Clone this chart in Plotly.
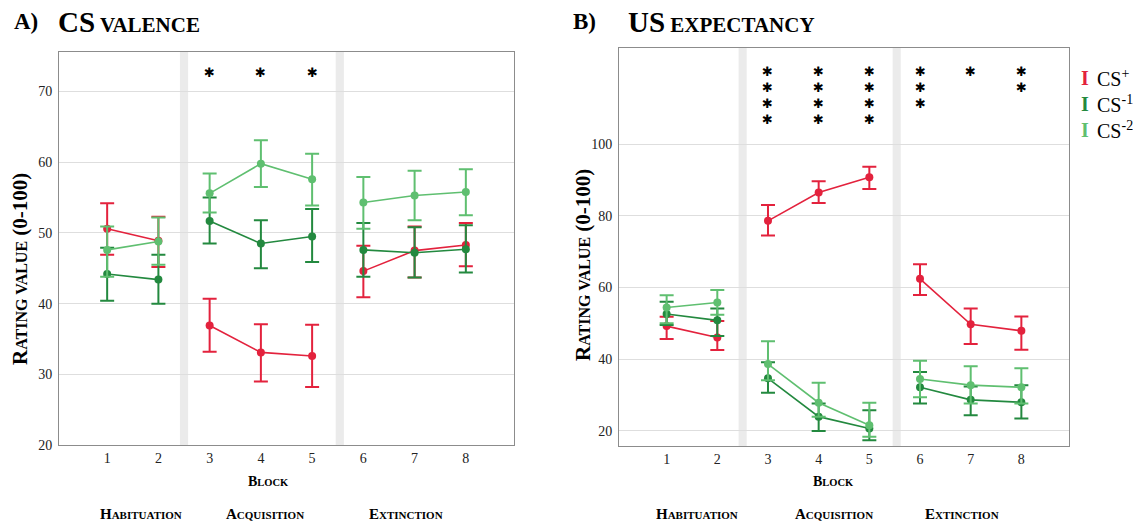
import plotly.graph_objects as go

# ---------------- data ----------------
blocks = [1, 2, 3, 4, 5, 6, 7, 8]
block_labels = ["1", "2", "3", "4", "5", "6", "7", "8"]
phase_segments = [[0, 1], [2, 3, 4], [5, 6, 7]]   # indices of blocks in each phase

# Panel A: CS valence (mean, upper CI, lower CI)
val_csp = [50.6, 48.9, 36.9, 33.1, 32.6, 44.6, 47.5, 48.3]
val_csp_hi = [54.2, 52.3, 40.7, 37.1, 37.0, 48.2, 50.9, 51.4]
val_csp_lo = [46.9, 45.2, 33.2, 29.0, 28.2, 40.9, 43.7, 45.3]
val_csm1 = [44.2, 43.4, 51.7, 48.5, 49.5, 47.6, 47.2, 47.7]
val_csm1_hi = [47.9, 46.9, 55.0, 51.8, 53.4, 51.4, 50.8, 51.1]
val_csm1_lo = [40.4, 40.0, 48.5, 45.0, 45.9, 43.8, 43.7, 44.4]
val_csm2 = [47.6, 48.8, 55.6, 59.8, 57.6, 54.3, 55.3, 55.8]
val_csm2_hi = [50.9, 52.2, 58.4, 63.1, 61.2, 57.9, 58.8, 59.0]
val_csm2_lo = [43.8, 45.5, 52.9, 56.5, 53.9, 50.6, 51.8, 52.5]
val_stars = [0, 0, 1, 1, 1, 0, 0, 0]

# Panel B: US expectancy
exp_csp = [49.2, 46.0, 78.6, 86.5, 90.8, 62.4, 49.7, 47.9]
exp_csp_hi = [51.8, 50.6, 83.0, 89.7, 93.7, 66.5, 54.1, 51.9]
exp_csp_lo = [45.6, 42.5, 74.5, 83.6, 87.5, 57.9, 44.2, 42.6]
exp_csm1 = [52.6, 50.8, 34.6, 23.9, 20.6, 32.1, 28.6, 27.9]
exp_csm1_hi = [56.0, 54.1, 39.1, 27.6, 25.7, 36.4, 32.3, 32.7]
exp_csm1_lo = [49.5, 46.4, 30.6, 19.9, 17.3, 27.6, 24.3, 23.4]
exp_csm2 = [54.4, 55.8, 38.6, 27.8, 21.5, 34.4, 32.7, 32.1]
exp_csm2_hi = [57.8, 59.3, 45.0, 33.4, 27.8, 39.5, 38.0, 37.4]
exp_csm2_lo = [50.0, 52.4, 34.1, 23.9, 18.3, 29.3, 27.6, 27.6]
exp_stars = [0, 0, 4, 4, 4, 3, 1, 2]

val_ticks = [20, 30, 40, 50, 60, 70]
exp_ticks = [20, 40, 60, 80, 100]
phase_names = [("H", "ABITUATION"), ("A", "CQUISITION"), ("E", "XTINCTION")]
legend_names = ["CS<sup>+</sup>", "CS<sup>-1</sup>", "CS<sup>-2</sup>"]

RED = "#e3223d"
DGREEN = "#23893f"
LGREEN = "#5fbf70"
colors = [RED, DGREEN, LGREEN]

W, H = 1133, 523
SERIF = "Liberation Serif"


def px(x):
    return x / W


def py(y):
    return 1 - y / H


fig = go.Figure()

panels = [
    ("x", "y", [(val_csp, val_csp_hi, val_csp_lo), (val_csm1, val_csm1_hi, val_csm1_lo),
                (val_csm2, val_csm2_hi, val_csm2_lo)]),
    ("x2", "y2", [(exp_csp, exp_csp_hi, exp_csp_lo), (exp_csm1, exp_csm1_hi, exp_csm1_lo),
                  (exp_csm2, exp_csm2_hi, exp_csm2_lo)]),
]
for xa, ya, series in panels:
    for (m, hi, lo), c in zip(series, colors):
        for seg in phase_segments:
            xs = [blocks[i] for i in seg]
            ms = [m[i] for i in seg]
            fig.add_trace(go.Scatter(
                x=xs, y=ms, mode="lines+markers", xaxis=xa, yaxis=ya,
                line=dict(color=c, width=1.6),
                marker=dict(color=c, size=8),
                error_y=dict(type="data", symmetric=False,
                             array=[hi[i] - m[i] for i in seg],
                             arrayminus=[m[i] - lo[i] for i in seg],
                             color=c, thickness=2, width=7),
                showlegend=False, hoverinfo="skip"))

axis_common = dict(showline=True, mirror=True, linecolor="#8c8c8c", linewidth=1,
                   zeroline=False, ticks="", automargin=False,
                   tickfont=dict(family=SERIF, size=14, color="#222222"))

fig.update_layout(
    width=W, height=H, autosize=False, margin=dict(l=0, r=0, t=0, b=0, pad=0),
    paper_bgcolor="white", plot_bgcolor="white",
    xaxis=dict(domain=[px(59), px(514)], range=[0.06, 8.94], anchor="y",
               tickvals=blocks, ticktext=block_labels, showgrid=False, **axis_common),
    yaxis=dict(domain=[py(445), py(52)], range=[20, 75.6], anchor="x",
               tickvals=val_ticks, showgrid=True, gridcolor="#dedede", gridwidth=1,
               ticklabelstandoff=3, **axis_common),
    xaxis2=dict(domain=[px(619), px(1069)], range=[0.06, 8.94], anchor="y2",
                tickvals=blocks, ticktext=block_labels, showgrid=False, **axis_common),
    yaxis2=dict(domain=[py(446), py(48)], range=[15.7, 126.9], anchor="x2",
                tickvals=exp_ticks, showgrid=True, gridcolor="#dedede", gridwidth=1,
                ticklabelstandoff=3, **axis_common),
)

# phase separator bands
for xr, yr in [("x", "y"), ("x2", "y2")]:
    for xc in (2.5, 5.54):
        fig.add_shape(type="rect", xref=xr, yref=yr + " domain", x0=xc - 0.08, x1=xc + 0.08,
                      y0=0, y1=1, fillcolor="#ebebeb", line=dict(width=0), layer="below")

ann = []
# significance stars: one small text per star, stacked 16 px apart
for xr, yr, stars, first in [("x", "y", val_stars, 20), ("x2", "y2", exp_stars, 24)]:
    for b, n in zip(blocks, stars):
        for k in range(n):
            ann.append(dict(x=b, xref=xr, y=1, yref=yr + " domain", yanchor="middle",
                            yshift=-(first + 16 * k), text="\u2731", showarrow=False,
                            font=dict(family="DejaVu Sans", size=13, color="black")))

bold = dict(family=SERIF, color="black", weight="bold")

# panel titles
ann.append(dict(x=px(12), y=py(22), xref="paper", yref="paper", xanchor="left", yanchor="middle",
                text="A)", showarrow=False, font=dict(size=23, **bold)))
ann.append(dict(x=px(56), y=py(22), xref="paper", yref="paper", xanchor="left", yanchor="middle",
                text="CS<span style='font-size:21px'> VALENCE</span>", showarrow=False,
                font=dict(size=29, **bold)))
ann.append(dict(x=px(571), y=py(22), xref="paper", yref="paper", xanchor="left", yanchor="middle",
                text="B)", showarrow=False, font=dict(size=23, **bold)))
ann.append(dict(x=px(626), y=py(22), xref="paper", yref="paper", xanchor="left", yanchor="middle",
                text="US<span style='font-size:21px'> EXPECTANCY</span>", showarrow=False,
                font=dict(size=29, **bold)))

# y titles
for xc, yc in [(20, 269), (583, 265)]:
    ann.append(dict(x=px(xc), y=py(yc), xref="paper", yref="paper", xanchor="center", yanchor="middle",
                    textangle=-90, showarrow=False,
                    text="R<span style='font-size:16px'>ATING VALUE</span> (0-100)",
                    font=dict(size=21, **bold)))

# Block labels
for xc in (268, 833):
    ann.append(dict(x=px(xc), y=py(481), xref="paper", yref="paper", xanchor="center", yanchor="middle",
                    showarrow=False, text="B<span style='font-size:10.5px'>LOCK</span>",
                    font=dict(size=14, **bold)))

# phase labels
for centers in [(141, 265, 406), (697, 834, 962)]:
    for xc, (cap, rest) in zip(centers, phase_names):
        ann.append(dict(x=px(xc), y=py(514), xref="paper", yref="paper", xanchor="center",
                        yanchor="middle", showarrow=False,
                        text="%s<span style='font-size:11px'>%s</span>" % (cap, rest),
                        font=dict(size=15, **bold)))

# legend
for (yc, name, c) in zip((78, 104, 130), legend_names, colors):
    ann.append(dict(x=px(1085), y=py(yc), xref="paper", yref="paper", xanchor="center", yanchor="middle",
                    showarrow=False, text="I", font=dict(family=SERIF, size=20, color=c, weight="bold")))
    ann.append(dict(x=px(1095), y=py(yc), xref="paper", yref="paper", xanchor="left", yanchor="middle",
                    showarrow=False, text=name, font=dict(family=SERIF, size=20, color="black")))

fig.update_layout(annotations=ann)

html = fig.to_html(include_plotlyjs=True, full_html=True, config={"displayModeBar": False})
css = "<style>html,body{margin:0;padding:0;overflow:hidden;}</style>"
html = html.replace("<head>", "<head>" + css, 1)
with open("out.html", "w", encoding="utf-8") as f:
    f.write(html)
